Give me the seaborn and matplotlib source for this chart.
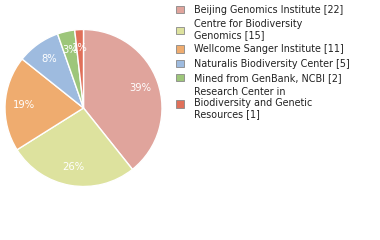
import matplotlib
matplotlib.use("Agg")
import matplotlib.pyplot as plt
import seaborn as sns
from matplotlib.patches import Patch

sns.set_style("white")
plt.rcParams['font.family'] = ['DejaVu Sans']

labels = ["Beijing Genomics Institute [22]",
          "Centre for Biodiversity\nGenomics [15]",
          "Wellcome Sanger Institute [11]",
          "Naturalis Biodiversity Center [5]",
          "Mined from GenBank, NCBI [2]",
          "Research Center in\nBiodiversity and Genetic\nResources [1]"]
values = [22, 15, 11, 5, 2, 1]
colors = ["#E0A49C", "#DDE29E", "#EFAC6F", "#9EBBDF", "#9DC67A", "#E0705A"]

W, H = 380, 240
fig = plt.figure(figsize=(W / 100, H / 100), dpi=100)
cx, cy, r = 83.5, 108, 78.5
ax = fig.add_axes([(cx - r) / W, (H - cy - r) / H, 2 * r / W, 2 * r / H])

def fmt(p):
    return "%d%%" % int(p + 1e-9)

wedges, texts, autotexts = ax.pie(values, colors=colors, startangle=90, counterclock=False,
                                  autopct=fmt, pctdistance=0.76,
                                  textprops=dict(color="white", fontsize=7.2))
ax.set_xlim(-1, 1)
ax.set_ylim(-1, 1)
ax.set_aspect("equal")
ax.axis("off")

handles = [Patch(facecolor=c, edgecolor="#888888", linewidth=0.6) for c in colors]
leg = fig.legend(handles, labels, loc="upper left", bbox_to_anchor=(172 / W, 1 - 1 / H),
                 frameon=False, fontsize=6.9, handlelength=0.85, handleheight=0.85,
                 handletextpad=1.0, labelspacing=0.44, borderaxespad=0)
for t in leg.get_texts():
    t.set_linespacing(1.15)
    t.set_color("#222222")

fig.savefig("out.png", dpi=100)
